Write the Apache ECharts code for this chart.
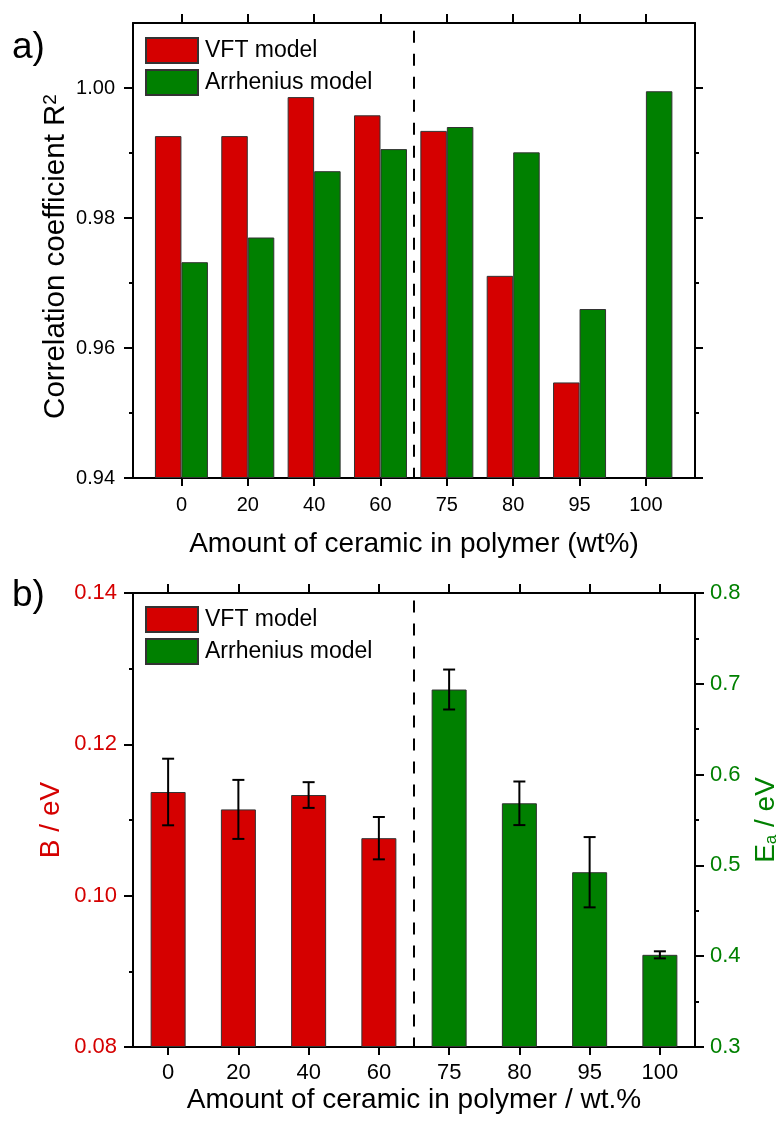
<!DOCTYPE html>
<html>
<head>
<meta charset="utf-8">
<script src="https://cdn.jsdelivr.net/npm/echarts@6/dist/echarts.min.js"></script>
<style>
html,body{margin:0;padding:0;background:#fff;}
#chart{width:780px;height:1124px;}
</style>
</head>
<body>
<div id="chart"></div>
<script>
// ---- data ----
const categories = ['0', '20', '40', '60', '75', '80', '95', '100'];
const r2VFT = [0.9926, 0.9926, 0.9986, 0.9958, 0.9934, 0.9711, 0.9547, null];
const r2Arrhenius = [0.9732, 0.9770, 0.9872, 0.9906, 0.9940, 0.9901, 0.9660, 0.9995];
const bVFT = [0.1137, 0.1114, 0.1133, 0.1076, null, null, null, null];
const bVFTErr = [0.0044, 0.0039, 0.0017, 0.0028, null, null, null, null];
const eaArrhenius = [null, null, null, null, 0.6937, 0.5684, 0.4925, 0.4015];
const eaArrheniusErr = [null, null, null, null, 0.022, 0.024, 0.0387, 0.0039];
const r2MajorTicks = [0.94, 0.96, 0.98, 1.00];
const r2MinorTicks = [0.95, 0.97, 0.99];
const dividerPos = 3.5;        // between "60" and "75"
const dividerTopR2 = 1.0088;   // upper end of the dashed divider, panel a
const dividerTopB = 0.1390;    // upper end of the dashed divider, panel b

// ---- style ----
const RED = '#d50000';
const GREEN = '#008000';
const FONT = '"Liberation Sans", Arial, sans-serif';
const idx = categories.map((c, i) => i);
const pairs = arr => arr.map((v, i) => [i, v]);
const errData = (vals, errs) => vals.map((v, i) => v == null ? null : [i, v - errs[i], v + errs[i]]).filter(d => d);

const lineStyle = { color: '#000', width: 2 };
const noSplit = { show: false };

function xAxes(grid, min, max, labelSize, labelMargin, name, nameGap) {
  return [
    {
      type: 'value', gridIndex: grid, position: 'bottom', min: min, max: max,
      axisLine: { show: true, onZero: false, lineStyle: lineStyle },
      axisTick: { show: true, customValues: idx, length: 8, lineStyle: { width: 2, color: '#000' } },
      axisLabel: { customValues: idx, formatter: v => categories[Math.round(v)], fontSize: labelSize, color: '#000', fontFamily: FONT, margin: labelMargin },
      splitLine: noSplit,
      name: name, nameLocation: 'middle', nameGap: nameGap,
      nameTextStyle: { fontSize: 28, color: '#000', fontFamily: FONT }
    },
    {
      type: 'value', gridIndex: grid, position: 'top', min: min, max: max,
      axisLine: { show: true, onZero: false, lineStyle: lineStyle },
      axisTick: { show: true, customValues: idx, length: 9, lineStyle: { width: 2, color: '#000' } },
      axisLabel: { show: false },
      splitLine: noSplit
    }
  ];
}

function divider(xi, yi, top, bottom) {
  return {
    type: 'line', xAxisIndex: xi, yAxisIndex: yi, data: [], silent: true,
    markLine: {
      silent: true, symbol: 'none', label: { show: false },
      lineStyle: { color: '#000', width: 2, type: [12, 11] },
      data: [[{ coord: [dividerPos, top] }, { coord: [dividerPos, bottom] }]]
    }
  };
}

function errSeries(xi, yi, data) {
  return {
    type: 'custom', xAxisIndex: xi, yAxisIndex: yi, z: 10, silent: true,
    encode: { x: 0, y: [1, 2] },
    data: data,
    renderItem: function (params, api) {
      const x = api.value(0);
      const lo = api.coord([x, api.value(1)]);
      const hi = api.coord([x, api.value(2)]);
      const w = 6;
      const st = { stroke: '#000', lineWidth: 2 };
      return {
        type: 'group',
        children: [
          { type: 'line', shape: { x1: hi[0], y1: hi[1], x2: lo[0], y2: lo[1] }, style: st },
          { type: 'line', shape: { x1: hi[0] - w, y1: hi[1], x2: hi[0] + w, y2: hi[1] }, style: st },
          { type: 'line', shape: { x1: lo[0] - w, y1: lo[1], x2: lo[0] + w, y2: lo[1] }, style: st }
        ]
      };
    }
  };
}

const legendCommon = {
  data: ['VFT model', 'Arrhenius model'], orient: 'vertical', left: 145, padding: 0,
  itemWidth: 52, itemHeight: 25, itemGap: 5, icon: 'rect',
  textStyle: { fontSize: 23, color: '#000', fontFamily: FONT, padding: [0, 0, 0, 2] }, selectedMode: false
};

const option = {
  animation: false,
  backgroundColor: '#fff',
  textStyle: { fontFamily: FONT },
  grid: [
    { left: 133, right: 85, top: 23, height: 455, outerBoundsMode: 'none', containLabel: false },
    { left: 133, right: 85, top: 593, height: 454, outerBoundsMode: 'none', containLabel: false }
  ],
  graphic: [
    { type: 'text', left: 12, top: 29, style: { text: 'a)', fontSize: 37, fill: '#000', fontFamily: FONT } },
    { type: 'text', left: 12, top: 577, style: { text: 'b)', fontSize: 37, fill: '#000', fontFamily: FONT } }
  ],
  legend: [
    Object.assign({}, legendCommon, { top: 37 }),
    Object.assign({}, legendCommon, { top: 606 })
  ],
  xAxis: [
    ...xAxes(0, -0.73, 7.74, 20, 17, 'Amount of ceramic in polymer (wt%)', 52),
    ...xAxes(1, -0.5, 7.5, 22, 15, 'Amount of ceramic in polymer / wt.%', 39)
  ],
  yAxis: [
    { // 0: top left major
      type: 'value', gridIndex: 0, position: 'left', min: 0.94, max: 1.01, startValue: 0.94,
      axisLine: { show: true, onZero: false, lineStyle: lineStyle },
      axisTick: { show: true, customValues: r2MajorTicks, length: 9, lineStyle: { width: 2, color: '#000' } },
      axisLabel: { customValues: r2MajorTicks, formatter: v => v.toFixed(2), fontSize: 20, color: '#000', fontFamily: FONT, margin: 18 },
      splitLine: noSplit,
      name: '{t|Correlation coefficient R}{s|2}', nameLocation: 'middle', nameRotate: 90, nameGap: 62,
      nameMoveOverlap: false,
      nameTextStyle: {
        fontFamily: FONT, color: '#000', padding: [0, 12, 0, 0],
        rich: {
          t: { fontSize: 29.5, fontFamily: FONT, color: '#000' },
          s: { fontSize: 19, fontFamily: FONT, color: '#000', verticalAlign: 'top' }
        }
      }
    },
    { // 1: top left minor
      type: 'value', gridIndex: 0, position: 'left', min: 0.94, max: 1.01,
      axisLine: { show: false, onZero: false },
      axisTick: { show: true, customValues: r2MinorTicks, length: 4, lineStyle: { width: 2, color: '#000' } },
      axisLabel: { show: false }, splitLine: noSplit
    },
    { // 2: top right major
      type: 'value', gridIndex: 0, position: 'right', min: 0.94, max: 1.01,
      axisLine: { show: true, onZero: false, lineStyle: lineStyle },
      axisTick: { show: true, customValues: r2MajorTicks, length: 8, lineStyle: { width: 2, color: '#000' } },
      axisLabel: { show: false }, splitLine: noSplit
    },
    { // 3: top right minor
      type: 'value', gridIndex: 0, position: 'right', min: 0.94, max: 1.01,
      axisLine: { show: false, onZero: false },
      axisTick: { show: true, customValues: r2MinorTicks, length: 4, lineStyle: { width: 2, color: '#000' } },
      axisLabel: { show: false }, splitLine: noSplit
    },
    { // 4: bottom left B
      type: 'value', gridIndex: 1, position: 'left', min: 0.08, max: 0.14, interval: 0.02, startValue: 0.08,
      axisLine: { show: true, onZero: false, lineStyle: lineStyle },
      axisTick: { show: true, length: 9, lineStyle: { width: 2, color: '#000' } },
      minorTick: { show: true, splitNumber: 2, length: 4, lineStyle: { width: 2, color: '#000' } },
      axisLabel: { formatter: v => v.toFixed(2), fontSize: 22, color: RED, fontFamily: FONT, margin: 16 },
      splitLine: noSplit, minorSplitLine: noSplit,
      name: 'B / eV', nameLocation: 'middle', nameRotate: 90, nameGap: 68,
      nameMoveOverlap: false,
      nameTextStyle: { fontSize: 28, color: RED, fontFamily: FONT }
    },
    { // 5: bottom right Ea
      type: 'value', gridIndex: 1, position: 'right', min: 0.3, max: 0.8, interval: 0.1, startValue: 0.3,
      axisLine: { show: true, onZero: false, lineStyle: lineStyle },
      axisTick: { show: true, length: 9, lineStyle: { width: 2, color: '#000' } },
      minorTick: { show: true, splitNumber: 2, length: 4, lineStyle: { width: 2, color: '#000' } },
      axisLabel: { formatter: v => v.toFixed(1), fontSize: 22, color: GREEN, fontFamily: FONT, margin: 15 },
      splitLine: noSplit, minorSplitLine: noSplit,
      name: '{t|E}{s|a}{t| / eV}', nameLocation: 'middle', nameRotate: 90, nameGap: 57,
      nameTextStyle: {
        fontFamily: FONT, color: GREEN,
        rich: {
          t: { fontSize: 28, fontFamily: FONT, color: GREEN },
          s: { fontSize: 17, fontFamily: FONT, color: GREEN, verticalAlign: 'bottom' }
        }
      }
    }
  ],
  series: [
    {
      type: 'bar', name: 'VFT model', xAxisIndex: 0, yAxisIndex: 0,
      data: pairs(r2VFT), barWidth: 26.5, barGap: '0%',
      itemStyle: { color: RED, borderColor: '#333', borderWidth: 1 }
    },
    {
      type: 'bar', name: 'Arrhenius model', xAxisIndex: 0, yAxisIndex: 0,
      data: pairs(r2Arrhenius), barWidth: 26.5, barGap: '0%',
      itemStyle: { color: GREEN, borderColor: '#333', borderWidth: 1 }
    },
    divider(0, 0, dividerTopR2, 0.94),
    {
      type: 'bar', name: 'VFT model', xAxisIndex: 2, yAxisIndex: 4,
      data: pairs(bVFT), barWidth: 35, barGap: '-100%',
      itemStyle: { color: RED, borderColor: '#333', borderWidth: 1 }
    },
    {
      type: 'bar', name: 'Arrhenius model', xAxisIndex: 2, yAxisIndex: 5,
      data: pairs(eaArrhenius), barWidth: 35, barGap: '-100%',
      itemStyle: { color: GREEN, borderColor: '#333', borderWidth: 1 }
    },
    errSeries(2, 4, errData(bVFT, bVFTErr)),
    errSeries(2, 5, errData(eaArrhenius, eaArrheniusErr)),
    divider(2, 4, dividerTopB, 0.08)
  ]
};

const chart = echarts.init(document.getElementById('chart'), null, { renderer: 'canvas' });
chart.setOption(option);
</script>
</body>
</html>
